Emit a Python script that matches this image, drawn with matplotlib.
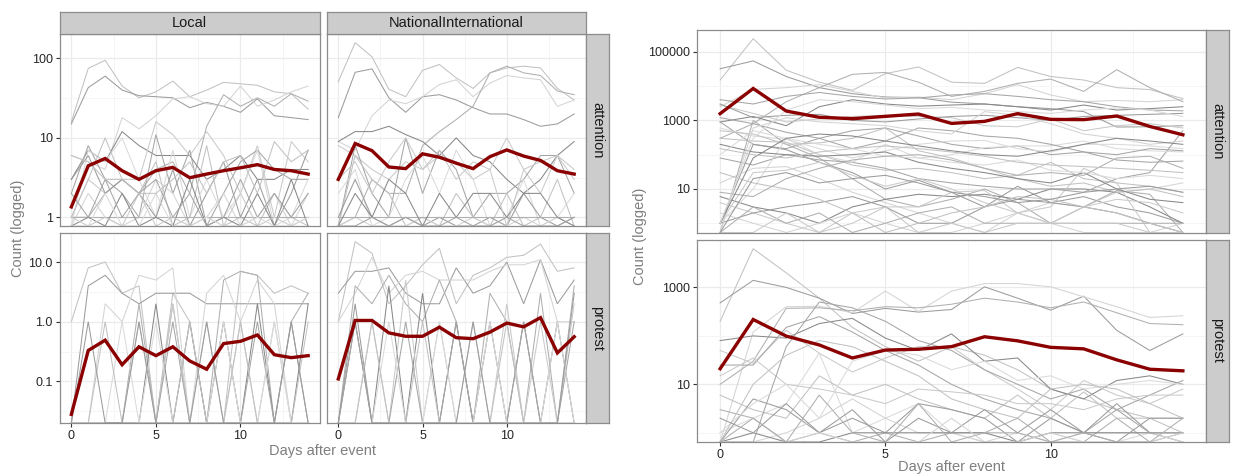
import numpy as np
import matplotlib
matplotlib.use("Agg")
import matplotlib.pyplot as plt
from matplotlib.ticker import FixedLocator, NullFormatter

plt.rcParams['font.family'] = ['Liberation Sans', 'DejaVu Sans']

# ---------------- data ----------------
days = list(range(15))
x_ticks = [0, 5, 10]
x_tick_labels = ["0", "5", "10"]

col_labels = ["Local", "NationalInternational"]
row_labels = ["attention", "protest"]
x_title = "Days after event"
y_title = "Count (logged)"

# left figure: mean lines
mean_local_attention = [1.35, 4.45, 5.5, 3.86, 3.0, 3.86, 4.25, 3.15, 3.5, 3.86, 4.2, 4.6, 4.0, 3.86, 3.5]
mean_natint_attention = [3.0, 8.5, 6.9, 4.3, 4.1, 6.3, 5.7, 4.8, 4.1, 5.8, 7.05, 5.9, 5.2, 3.86, 3.5]
mean_local_protest = [0.028, 0.33, 0.49, 0.19, 0.38, 0.27, 0.38, 0.22, 0.16, 0.43, 0.47, 0.6, 0.28, 0.25, 0.27]
mean_natint_protest = [0.11, 1.05, 1.05, 0.65, 0.57, 0.57, 0.81, 0.54, 0.52, 0.67, 0.95, 0.82, 1.17, 0.30, 0.56]

# right figure: mean lines
mean_all_attention = [1570, 8500, 1870, 1230, 1120, 1310, 1530, 815, 935, 1570, 1070, 1050, 1340, 665, 380]
mean_all_protest = [21, 218, 99, 65, 35, 51, 53, 60, 96, 79, 58, 54, 32, 20.5, 19]

# individual event series (grey lines)
local_attention = [
    [16, 75, 95, 45, 32, 38, 52, 33, 40, 50, 48, 46, 38, 36, 23],
    [15, 43, 60, 40, 34, 33, 32, 24, 28, 25, 21, 31, 19, 18, 17],
    [6, 5, 4, 18, 13, 19, 31, 33, 27, 25, 45, 25, 30, 38, 45],
    [1, 1, 2, 3, 2, 4, 5, 2, 14, 35, 25, 32, 25, 36, 29],
    [3, 7, 5, 12, 8, 6, 6, 6, 3, 4, 6, 3, 3, 4, 4],
    [1, 3, 2, 3, 3, 16, 11, 6, 12, 6, 2, 8, 1, 9, 5],
    [2, 8, 3, 2, 1, 11, 2, 7, 0, 2, 5, 7, 4, 3, 3],
    [0, 7, 5, 10, 3, 1, 7, 1, 3, 1, 2, 7, 0, 1, 3],
    [1, 3, 10, 3, 2, 5, 0, 1, 8, 0, 1, 0, 2, 1, 0],
    [3, 6, 2, 3, 2, 1, 4, 0, 2, 5, 1, 3, 0, 2, 7],
    [0, 2, 1, 0, 1, 3, 2, 0, 1, 2, 0, 1, 2, 0, 2],
    [1, 1, 1, 1, 1, 1, 1, 1, 1, 1, 1, 1, 1, 1, 1],
    [0, 1, 0, 2, 0, 1, 0, 3, 0, 1, 0, 2, 0, 3, 0],
    [1, 0, 1, 0, 2, 0, 1, 0, 1, 0, 2, 0, 1, 0, 1],
    [2, 1, 3, 1, 2, 3, 1, 2, 0, 1, 3, 1, 2, 1, 2],
    [0, 0, 2, 0, 0, 2, 0, 0, 1, 0, 0, 1, 0, 0, 1],
    [6, 5, 3, 3, 2, 2, 3, 5, 2, 5, 6, 2, 9, 5, 7],
]
natint_attention = [
    [51, 158, 105, 41, 33, 71, 84, 57, 42, 66, 76, 80, 76, 42, 30],
    [18, 67, 74, 32, 21, 33, 35, 30, 24, 20, 20, 17, 14, 15, 20],
    [9, 7, 19, 30, 27, 33, 47, 54, 33, 49, 61, 57, 54, 25, 30],
    [0, 1, 3, 2, 2, 8, 12, 17, 25, 66, 80, 66, 61, 39, 35],
    [9, 12, 12, 14, 11, 9, 6, 10, 6, 5, 3, 2, 3, 6, 9],
    [8, 6, 4, 3, 5, 4, 6, 5, 3, 4, 10, 4, 2, 6, 4],
    [0, 8, 2, 1, 10, 2, 7, 4, 1, 2, 2, 3, 6, 6, 2],
    [2, 4, 0, 1, 3, 6, 2, 7, 3, 0, 1, 3, 0, 1, 2],
    [0, 6, 3, 2, 0, 1, 0, 2, 1, 0, 2, 0, 1, 3, 0],
    [1, 3, 1, 0, 1, 0, 1, 0, 0, 1, 0, 2, 1, 0, 1],
    [0, 1, 0, 0, 0, 1, 0, 0, 1, 0, 0, 1, 0, 1, 0],
    [1, 1, 1, 1, 1, 1, 1, 1, 1, 1, 1, 1, 1, 1, 1],
    [0, 2, 1, 3, 2, 0, 2, 1, 2, 2, 1, 2, 2, 1, 0],
    [3, 5, 2, 5, 10, 4, 7, 3, 5, 4, 0, 4, 5, 6, 3],
    [0, 0, 1, 0, 1, 0, 0, 1, 0, 0, 1, 0, 0, 0, 1],
]
local_protest = [
    [1, 8, 10, 3, 4, 0, 3, 1, 0, 0, 7, 6, 3, 4, 3],
    [0, 4, 6, 3, 2, 3, 3, 3, 2, 2, 2, 2, 2, 2, 2],
    [0, 0, 2, 1, 6, 5, 8, 0, 3, 6, 1, 5, 2, 0, 0],
    [0, 0, 0, 0, 2, 0, 2, 0, 0, 5, 7, 6, 0, 1, 3],
    [0, 0, 0, 0, 0, 2, 0, 1, 0, 1, 0, 2, 0, 0, 2],
    [0, 0, 0, 0, 1, 0, 2, 0, 1, 0, 1, 0, 1, 0, 0],
    [0, 0, 0, 0, 0, 0, 1, 0, 0, 0, 0, 1, 0, 1, 0],
    [0, 0, 0, 1, 0, 1, 0, 0, 0, 1, 0, 0, 1, 0, 0],
    [0, 0, 1, 0, 0, 0, 0, 1, 0, 0, 1, 0, 0, 0, 1],
    [0, 1, 0, 0, 1, 0, 0, 0, 1, 0, 0, 0, 0, 1, 0],
]
natint_protest = [
    [1, 22, 14, 2, 4, 9, 17, 2, 6, 8, 12, 13, 20, 7, 8],
    [3, 7, 7, 8, 3, 2, 2, 8, 3, 4, 10, 2, 11, 2, 5],
    [1, 3, 12, 3, 6, 7, 5, 5, 5, 7, 9, 9, 11, 1, 1],
    [0, 4, 2, 6, 2, 1, 5, 1, 0, 3, 1, 0, 3, 0, 4],
    [0, 1, 0, 4, 0, 3, 0, 1, 0, 1, 0, 1, 0, 1, 0],
    [0, 0, 1, 0, 5, 0, 1, 0, 1, 0, 2, 0, 1, 0, 2],
    [0, 1, 0, 0, 1, 0, 0, 1, 0, 0, 0, 1, 0, 0, 1],
    [0, 0, 0, 1, 0, 0, 1, 0, 0, 1, 0, 0, 0, 1, 0],
    [0, 0, 1, 0, 0, 1, 0, 0, 0, 0, 1, 0, 0, 0, 0],
    [0, 2, 0, 0, 0, 0, 0, 0, 1, 0, 0, 0, 0, 0, 3],
]
all_attention = [
    [15000, 240000, 29000, 13000, 7500, 23000, 36000, 13000, 12000, 35000, 19000, 15000, 9000, 7900, 4300],
    [32000, 54000, 19000, 9000, 6000, 4800, 4600, 3400, 3000, 2500, 2200, 1800, 640, 650, 700],
    [2500, 8000, 9000, 11000, 7000, 4500, 4800, 4000, 6000, 11000, 5500, 3500, 3800, 3500, 4000],
    [300, 800, 3500, 9000, 22000, 25000, 13000, 5000, 7000, 12000, 16000, 7000, 30000, 9000, 3500],
    [900, 1300, 700, 2500, 4000, 3000, 2600, 2800, 3000, 2500, 2000, 2800, 2000, 2200, 2500],
    [2800, 1600, 900, 1100, 1300, 1400, 1300, 1200, 700, 650, 1100, 500, 700, 800, 600],
    [900, 200, 150, 300, 500, 600, 350, 200, 150, 180, 100, 120, 70, 60, 65],
    [600, 350, 280, 150, 80, 130, 200, 250, 260, 150, 120, 200, 200, 180, 150],
    [300, 250, 230, 100, 50, 35, 40, 30, 20, 25, 60, 20, 15, 12, 8],
    [1, 200, 140, 60, 30, 10, 18, 8, 3, 12, 4, 6, 3, 2, 1],
    [15, 40, 45, 20, 8, 4, 2, 1, 0, 2, 4, 3, 8, 10, 15],
    [0, 1000, 200, 80, 20, 5, 3, 5, 10, 4, 1, 3, 9, 7, 0],
    [6, 3, 2, 1, 3, 5, 7, 6, 7, 5, 10, 10, 8, 3, 1],
    [4, 2, 1, 0, 2, 3, 3, 8, 9, 2, 3, 40, 15, 0, 0],
    [80, 50, 100, 70, 60, 40, 20, 15, 12, 10, 10, 8, 20, 30, 500],
    [1, 10, 300, 100, 60, 200, 80, 100, 160, 180, 180, 250, 150, 130, 120],
    [500, 400, 200, 220, 300, 600, 130, 80, 40, 20, 12, 15, 8, 10, 6],
    [1, 2, 3, 4, 6, 3, 1, 1, 3, 5, 4, 3, 2, 1, 0],
    [2, 1, 0, 1, 2, 1, 0, 0, 1, 2, 1, 0, 0, 0, 1],
    [0, 3, 1, 2, 0, 1, 2, 3, 1, 1, 1, 1, 1, 1, 1],
    [200, 120, 100, 90, 100, 120, 60, 40, 30, 20, 15, 30, 10, 5, 4],
    [1, 30, 35, 60, 25, 12, 20, 10, 4, 2, 1, 3, 5, 4, 2],
    [1200, 800, 450, 300, 150, 250, 600, 500, 350, 300, 200, 120, 100, 150, 130],
    [100, 500, 300, 200, 150, 90, 80, 60, 50, 70, 35, 30, 20, 25, 20],
    [30, 15, 10, 5, 2, 0, 1, 2, 3, 6, 5, 3, 2, 1, 0],
    [3000, 1200, 1400, 1500, 1000, 900, 1100, 1300, 1400, 1200, 1000, 1300, 1400, 1500, 1600],
    [0, 600, 1200, 900, 800, 700, 500, 400, 1800, 1400, 800, 400, 300, 200, 250],
    [8, 6, 20, 40, 70, 90, 100, 70, 40, 25, 30, 25, 80, 90, 40],
    [1, 80, 300, 400, 350, 250, 180, 130, 100, 90, 130, 200, 300, 250, 200],
    [0, 0, 2, 0, 1, 3, 0, 1, 0, 1, 1, 1, 1, 0, 0],
    [4000, 3000, 5000, 6500, 5000, 4200, 4500, 5500, 6000, 5000, 4000, 3500, 2500, 2000, 1900],
    [1, 300, 2000, 4000, 3500, 2800, 2200, 2400, 2000, 1800, 1600, 2000, 2300, 2000, 1300],
    [150, 100, 80, 120, 150, 180, 150, 120, 90, 60, 50, 45, 40, 35, 30],
    [0, 20, 30, 15, 20, 25, 15, 8, 6, 4, 5, 8, 10, 12, 8],
]
all_protest = [
    [200, 6300, 2000, 600, 150, 60, 30, 60, 40, 20, 8, 5, 3, 2, 2],
    [480, 1400, 1000, 600, 290, 370, 310, 350, 1030, 600, 340, 660, 130, 50, 110],
    [0, 120, 400, 410, 300, 840, 320, 840, 1200, 1200, 1030, 640, 400, 240, 260],
    [10, 30, 370, 380, 330, 400, 380, 450, 600, 500, 380, 500, 300, 180, 170],
    [80, 100, 90, 180, 230, 90, 50, 110, 30, 35, 8, 5, 12, 15, 10],
    [50, 27, 130, 44, 18, 35, 60, 60, 20, 8, 3, 12, 6, 4, 8],
    [25, 25, 150, 250, 120, 50, 25, 10, 5, 3, 2, 1, 3, 6, 12],
    [1, 2, 4, 44, 1, 2, 4, 1, 0, 0, 1, 0, 0, 1, 1],
    [6, 3, 2, 15, 6, 10, 5, 3, 2, 6, 2, 7, 2, 2, 1],
    [0, 5, 3, 1, 2, 1, 4, 3, 2, 0, 2, 1, 4, 1, 0],
    [0, 0, 1, 2, 5, 2, 1, 1, 0, 1, 0, 1, 1, 1, 0],
    [3, 2, 0, 1, 0, 1, 0, 1, 1, 1, 0, 0, 2, 0, 1],
    [0, 1, 0, 0, 1, 1, 1, 1, 1, 0, 1, 1, 1, 1, 1],
    [15, 35, 10, 8, 6, 4, 8, 7, 6, 4, 4, 3, 5, 6, 6],
    [0, 0, 60, 500, 380, 200, 80, 50, 20, 10, 5, 8, 3, 1, 1],
    [1, 4, 10, 2, 30, 50, 40, 20, 30, 12, 15, 8, 10, 12, 10],
    [0, 10, 40, 80, 60, 30, 15, 5, 3, 2, 8, 10, 8, 4, 2],
    [2, 1, 4, 1, 3, 0, 2, 1, 3, 1, 3, 1, 0, 2, 2],
    [0, 0, 0, 1, 0, 0, 0, 2, 0, 0, 1, 0, 0, 0, 1],
    [0, 2, 0, 6, 1, 0, 4, 0, 1, 2, 0, 1, 0, 0, 2],
]

left_att_ticks = [1, 10, 100]
left_att_labels = ["1", "10", "100"]
left_pro_ticks = [0.1, 1, 10]
left_pro_labels = ["0.1", "1.0", "10.0"]
right_att_ticks = [10, 1000, 100000]
right_att_labels = ["10", "1000", "100000"]
right_pro_ticks = [10, 1000]
right_pro_labels = ["10", "1000"]

# ---------------- style ----------------
W, H = 1233, 476
fig = plt.figure(figsize=(W / 100, H / 100), dpi=100)

GREYS = ['#c2c2c2', '#9c9c9c', '#d4d4d4', '#b0b0b0', '#888888', '#cacaca', '#a6a6a6', '#dadada']
RED = '#8B0000'
BORDER = '#8c8c8c'
STRIP = '#cccccc'
TICKTXT = '#262626'
TITLE = '#7f7f7f'


def add_ax(x0, y0, x1, y1):
    return fig.add_axes([x0 / W, 1 - y1 / H, (x1 - x0) / W, (y1 - y0) / H])


def log_limits(groups):
    vals = np.concatenate([np.asarray(g, dtype=float).ravel() for g in groups])
    vals = vals[vals > 0]
    lo, hi = np.log10(vals.min()), np.log10(vals.max())
    pad = 0.05 * (hi - lo)
    return 10 ** (lo - pad), 10 ** (hi + pad)


def panel(ax, series, mean, ylim, ticks, labels, show_y, show_x):
    lo, hi = ylim
    ax.set_yscale('log')
    ax.set_xlim(-0.7, 14.7)
    ax.set_ylim(lo, hi)
    lt = np.log10(ticks)
    step = lt[1] - lt[0]
    mids = np.arange(lt[0] - step / 2, np.log10(hi) + step, step)
    ax.yaxis.set_major_locator(FixedLocator(ticks))
    ax.yaxis.set_minor_locator(FixedLocator(10 ** mids))
    ax.yaxis.set_minor_formatter(NullFormatter())
    ax.xaxis.set_major_locator(FixedLocator(x_ticks))
    ax.xaxis.set_minor_locator(FixedLocator([2.5, 7.5, 12.5]))
    ax.grid(which='major', color='#ebebeb', lw=0.9, zorder=0)
    ax.grid(which='minor', color='#f4f4f4', lw=0.6, zorder=0)
    ax.set_axisbelow(True)
    for i, s in enumerate(series):
        v = np.asarray(s, dtype=float)
        v = np.where(v > 0, v, lo)
        ax.plot(days, v, color=GREYS[i % len(GREYS)], lw=0.75, zorder=2,
                solid_joinstyle='miter')
    ax.plot(days, mean, color=RED, lw=2.4, zorder=3, solid_joinstyle='miter')
    for sp in ax.spines.values():
        sp.set_color(BORDER)
        sp.set_linewidth(0.9)
    ax.tick_params(which='minor', length=0)
    ax.tick_params(which='major', length=2.8, width=0.8, color='#333333',
                   labelsize=9, labelcolor=TICKTXT, pad=2)
    if show_y:
        ax.set_yticklabels(labels)
    else:
        ax.tick_params(axis='y', which='major', length=0, labelleft=False)
    if show_x:
        ax.set_xticklabels(x_tick_labels)
    else:
        ax.tick_params(axis='x', which='major', length=0, labelbottom=False)


def strip(x0, y0, x1, y1, text, rot=0):
    a = add_ax(x0, y0, x1, y1)
    a.set_facecolor(STRIP)
    a.set_xticks([])
    a.set_yticks([])
    for sp in a.spines.values():
        sp.set_color(BORDER)
        sp.set_linewidth(0.9)
    a.text(0.5, 0.5, text, rotation=rot, ha='center', va='center',
           fontsize=10.5, color='#1a1a1a', transform=a.transAxes)


# ---------------- left figure ----------------
LX = [(59.5, 320), (326.5, 586)]
LY = [(34, 226), (233, 423)]
lim_att = log_limits(local_attention + natint_attention + [mean_local_attention, mean_natint_attention])
lim_pro = log_limits(local_protest + natint_protest + [mean_local_protest, mean_natint_protest])

ax = add_ax(LX[0][0], LY[0][0], LX[0][1], LY[0][1])
panel(ax, local_attention, mean_local_attention, lim_att, left_att_ticks, left_att_labels, True, False)
ax = add_ax(LX[1][0], LY[0][0], LX[1][1], LY[0][1])
panel(ax, natint_attention, mean_natint_attention, lim_att, left_att_ticks, left_att_labels, False, False)
ax = add_ax(LX[0][0], LY[1][0], LX[0][1], LY[1][1])
panel(ax, local_protest, mean_local_protest, lim_pro, left_pro_ticks, left_pro_labels, True, True)
ax = add_ax(LX[1][0], LY[1][0], LX[1][1], LY[1][1])
panel(ax, natint_protest, mean_natint_protest, lim_pro, left_pro_ticks, left_pro_labels, False, True)

for (x0, x1), lab in zip(LX, col_labels):
    strip(x0, 12, x1, 34, lab)
for (y0, y1), lab in zip(LY, row_labels):
    strip(586, y0, 609, y1, lab, rot=-90)

fig.text(322.75 / W, 1 - 451 / H, x_title, ha='center', va='center', fontsize=10.5, color=TITLE)
fig.text(18 / W, 1 - 228.5 / H, y_title, ha='center', va='center', rotation=90, fontsize=10.5, color=TITLE)

# ---------------- right figure ----------------
RX = (697, 1206)
RY = [(29.5, 232.5), (239.5, 442)]
lim_ra = log_limits(all_attention + [mean_all_attention])
lim_rp = log_limits(all_protest + [mean_all_protest])

ax = add_ax(RX[0], RY[0][0], RX[1], RY[0][1])
panel(ax, all_attention, mean_all_attention, lim_ra, right_att_ticks, right_att_labels, True, False)
ax = add_ax(RX[0], RY[1][0], RX[1], RY[1][1])
panel(ax, all_protest, mean_all_protest, lim_rp, right_pro_ticks, right_pro_labels, True, True)

for (y0, y1), lab in zip(RY, row_labels):
    strip(1206, y0, 1229, y1, lab, rot=-90)

fig.text(951.5 / W, 1 - 467.5 / H, x_title, ha='center', va='center', fontsize=10.5, color=TITLE)
fig.text(640 / W, 1 - 236 / H, y_title, ha='center', va='center', rotation=90, fontsize=10.5, color=TITLE)

fig.savefig("out.png", dpi=100)
